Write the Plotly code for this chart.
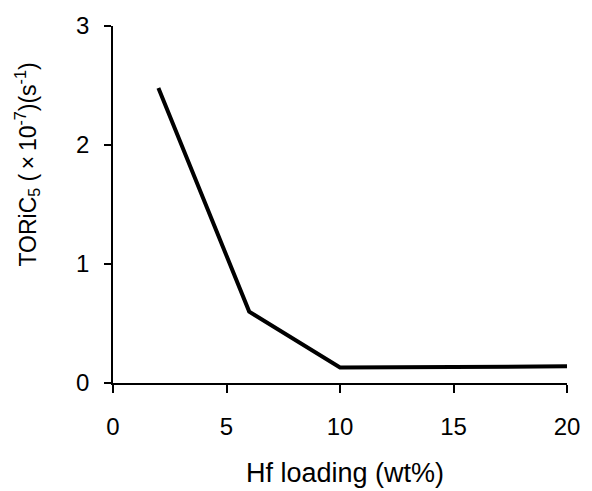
import plotly.graph_objects as go

hf_loading = [2, 6, 10, 20]
toric5 = [2.48, 0.60, 0.13, 0.14]
x_ticks = [0, 5, 10, 15, 20]
y_ticks = [0, 1, 2, 3]
x_title = "Hf loading (wt%)"
y_title = "TORiC<sub>5</sub> (\u2009×\u200910<sup>-7</sup>)(s<sup>-1</sup>)"

fig = go.Figure()
fig.add_trace(go.Scatter(x=hf_loading, y=toric5, mode="lines",
                         line=dict(color="black", width=4), showlegend=False))

font = "Liberation Sans, Arial, sans-serif"
fig.update_layout(
    width=592, height=491,
    margin=dict(l=113, r=19, t=23, b=108),
    paper_bgcolor="white", plot_bgcolor="white",
    font=dict(family=font, color="black"),
    xaxis=dict(range=[0, 20], tickvals=x_ticks, showgrid=False, zeroline=False,
               showline=True, linecolor="black", linewidth=1.5,
               ticks="outside", ticklen=8, tickwidth=1.5, tickcolor="black",
               tickfont=dict(size=24), ticklabelstandoff=13),
    yaxis=dict(range=[0, 3], tickvals=y_ticks, showgrid=False, zeroline=False,
               showline=True, linecolor="black", linewidth=1.5,
               ticks="outside", ticklen=7, tickwidth=1.5, tickcolor="black",
               tickfont=dict(size=24), ticklabelstandoff=10),
    annotations=[
        dict(text=x_title, xref="paper", yref="paper", x=0.511, y=-0.253,
             xanchor="center", yanchor="middle", showarrow=False,
             font=dict(size=27)),
        dict(text=y_title, xref="paper", yref="paper", x=-0.19, y=0.611,
             xanchor="center", yanchor="middle", showarrow=False, textangle=-90,
             font=dict(size=23)),
    ],
)
fig.write_html("out.html")
